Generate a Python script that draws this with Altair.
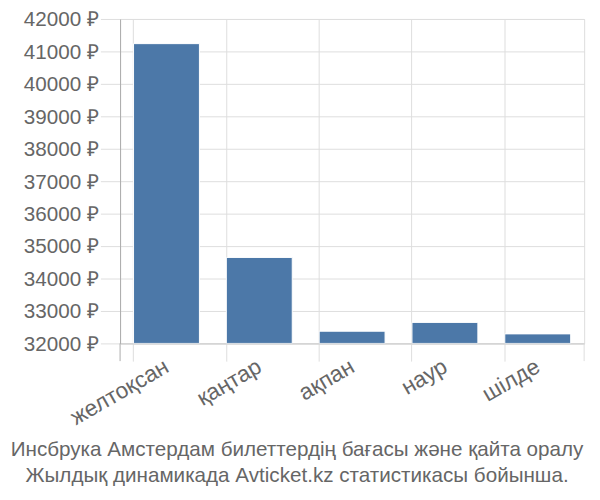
import altair as alt
import pandas as pd

months = ["желтоқсан", "қаңтар", "ақпан", "наур", "шілде"]
prices = [41240, 34650, 32376, 32648, 32294]
title_lines = [
    "Инсбрука Амстердам билеттердің бағасы және қайта оралу",
    "Жылдық динамикада Avticket.kz статистикасы бойынша.",
]

df = pd.DataFrame({"month": months, "price": prices})

FONT = "Liberation Sans"
W, H = 472, 330

bars = alt.Chart(df).mark_bar(
    color="#4c78a8", stroke="#ffffff", strokeWidth=1, clip=True
).encode(
    x=alt.X(
        "month:N",
        sort=months,
        scale=alt.Scale(paddingInner=0.29, paddingOuter=0.145),
        axis=alt.Axis(
            title=None,
            labelAngle=-30,
            labelAlign="right",
            labelBaseline="top",
            labelFontSize=23,
            labelColor="#666666",
            labelFont=FONT,
            labelPadding=-6,
            labelOffset=-5,
            bandPosition=0,
            grid=True,
            gridColor="#dddddd",
            ticks=True,
            tickSize=18,
            tickColor="#dddddd",
            domain=True,
            domainColor="#cccccc",
        ),
    ),
    y=alt.Y(
        "price:Q",
        scale=alt.Scale(domain=[32000, 42000], zero=False, nice=False),
        axis=alt.Axis(
            title=None,
            values=list(range(32000, 42001, 1000)),
            labelExpr="datum.value + ' ₽'",
            labelFontSize=21,
            labelColor="#666666",
            labelFont=FONT,
            labelPadding=2,
            labelOffset=1,
            tickSize=20,
            tickColor="#dddddd",
            gridColor="#dddddd",
            domain=True,
            domainColor="#aaaaaa",
        ),
    ),
    y2=alt.datum(32000),
)

left_tick = alt.Chart().mark_rule(color="#aaaaaa", strokeWidth=1).encode(
    x=alt.value(0), y=alt.value(H), y2=alt.value(H + 18)
)
right_tick = alt.Chart().mark_rule(color="#dddddd", strokeWidth=1).encode(
    x=alt.value(W), y=alt.value(H), y2=alt.value(H + 18)
)

chart = alt.layer(bars, left_tick, right_tick).properties(
    width=W,
    height=H,
    autosize=alt.AutoSizeParams(type="none"),
    padding={"left": 114, "top": 7, "right": 8, "bottom": 150},
    title=alt.TitleParams(
        text=title_lines,
        orient="bottom",
        anchor="middle",
        fontSize=21,
        font=FONT,
        fontWeight="normal",
        color="#666666",
        lineHeight=27,
        offset=10,
        dx=-56,
    ),
).configure_view(stroke="#dddddd")

chart.save("out.html", embed_options={"renderer": "svg", "actions": False})
